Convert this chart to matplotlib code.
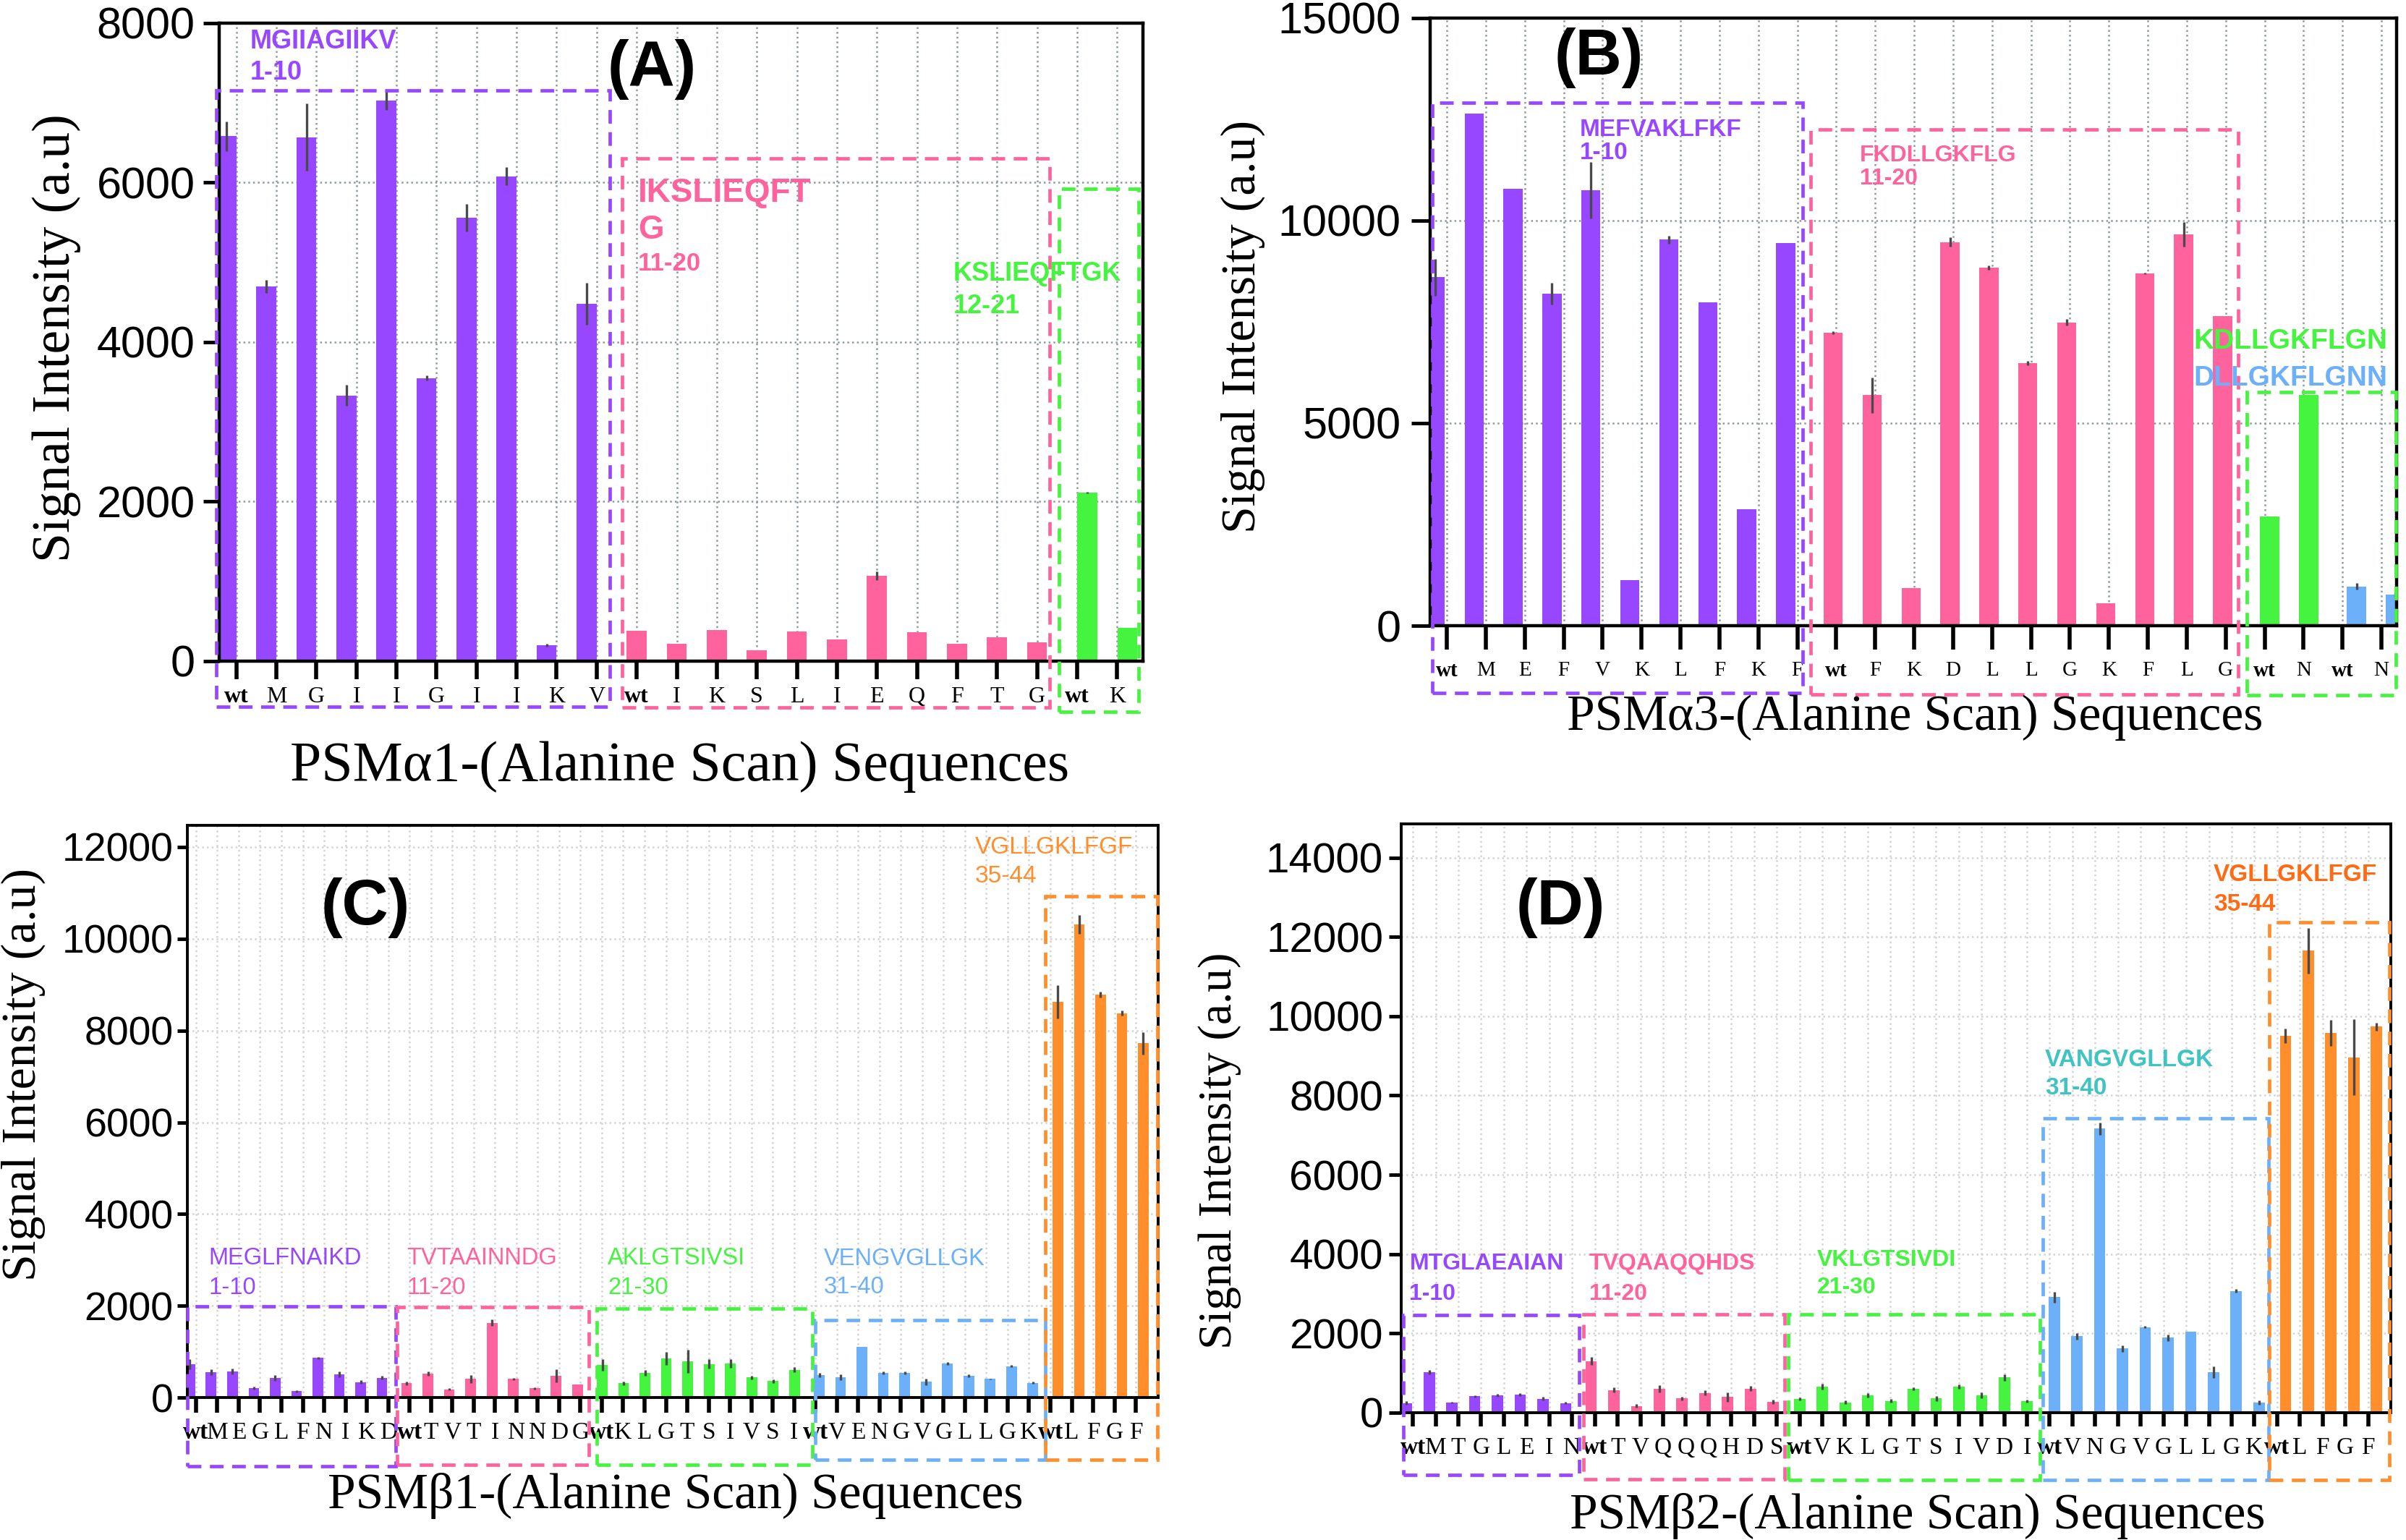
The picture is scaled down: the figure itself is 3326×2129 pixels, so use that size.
import numpy as np
import matplotlib
matplotlib.use("Agg")
import matplotlib.pyplot as plt
from matplotlib.patches import Rectangle

# ---------------- data ----------------
# (A) PSMalpha1
a1_labels = ["wt", "M", "G", "I", "I", "G", "I", "I", "K", "V"]
a1_vals = [6580, 4700, 6570, 3330, 7030, 3550, 5560, 6080, 200, 4480]
a1_err = [190, 80, 420, 130, 120, 30, 170, 110, 20, 260]
a2_labels = ["wt", "I", "K", "S", "L", "I", "E", "Q", "F", "T", "G"]
a2_vals = [380, 220, 390, 140, 370, 275, 1070, 360, 215, 300, 240]
a2_err = [0, 0, 0, 0, 0, 0, 50, 0, 0, 0, 0]
a3_labels = ["wt", "K"]
a3_vals = [2110, 420]
a3_err = [10, 0]

# (B) PSMalpha3
b1_labels = ["wt", "M", "E", "F", "V", "K", "L", "F", "K", "F"]
b1_vals = [8600, 12650, 10790, 8200, 10750, 1130, 9530, 7980, 2870, 9440]
b1_err = [460, 0, 0, 270, 690, 0, 100, 0, 0, 0]
b2_labels = ["wt", "F", "K", "D", "L", "L", "G", "K", "F", "L", "G"]
b2_vals = [7230, 5690, 920, 9470, 8840, 6480, 7490, 560, 8690, 9660, 7640]
b2_err = [30, 440, 0, 120, 60, 60, 80, 0, 20, 310, 0]
b3_labels = ["wt", "N"]
b3_vals = [2700, 5690]
b3_err = [0, 0]
b4_labels = ["wt", "N"]
b4_vals = [970, 770]
b4_err = [80, 60]

# (C) PSMbeta1
c1_labels = ["wt", "M", "E", "G", "L", "F", "N", "I", "K", "D"]
c1_vals = [730, 556, 566, 212, 423, 138, 862, 503, 339, 429]
c1_err = [110, 60, 60, 30, 60, 20, 20, 60, 40, 40]
c2_labels = ["wt", "T", "V", "T", "I", "N", "N", "D", "G"]
c2_vals = [312, 519, 180, 407, 1630, 407, 201, 476, 286]
c2_err = [40, 50, 20, 90, 70, 20, 20, 140, 0]
c3_labels = ["wt", "K", "L", "G", "T", "S", "I", "V", "S", "I"]
c3_vals = [714, 312, 534, 852, 788, 730, 741, 439, 360, 608]
c3_err = [130, 40, 60, 140, 250, 100, 100, 40, 40, 50]
c4_labels = ["wt", "V", "E", "N", "G", "V", "G", "L", "L", "G", "K"]
c4_vals = [487, 446, 1109, 539, 539, 342, 746, 477, 404, 684, 321]
c4_err = [50, 60, 0, 30, 30, 70, 30, 30, 10, 20, 20]
c5_labels = ["wt", "L", "F", "G", "F"]
c5_vals = [8630, 10310, 8780, 8380, 7720]
c5_err = [360, 200, 60, 60, 250]

# (D) PSMbeta2
d1_labels = ["wt", "M", "T", "G", "L", "E", "I", "N"]
d1_vals = [242, 1018, 255, 412, 436, 455, 352, 242]
d1_err = [40, 60, 20, 30, 30, 30, 40, 30]
d2_labels = ["wt", "T", "V", "Q", "Q", "Q", "H", "D", "S"]
d2_vals = [1303, 570, 170, 606, 358, 497, 394, 606, 273]
d2_err = [100, 60, 40, 90, 50, 60, 120, 60, 50]
d3_labels = ["wt", "V", "K", "L", "G", "T", "S", "I", "V", "D", "I"]
d3_vals = [345, 655, 260, 436, 297, 600, 358, 655, 436, 890, 287]
d3_err = [40, 70, 40, 60, 50, 40, 60, 50, 80, 80, 40]
d4_labels = ["wt", "V", "N", "G", "V", "G", "L", "L", "G", "K"]
d4_vals = [2910, 1930, 7160, 1620, 2160, 1890, 2040, 1020, 3070, 250]
d4_err = [130, 80, 150, 80, 30, 80, 0, 150, 40, 50]
d5_labels = ["wt", "L", "F", "G", "F"]
d5_vals = [9510, 11650, 9580, 8960, 9740]
d5_err = [180, 570, 330, 960, 100]

# ---------------- style ----------------
SERIF = "Liberation Serif"
SANS = "Liberation Sans"
PURPLE = "#9747FF"
PINK = "#FF639D"
GREEN = "#45F43F"
BLUE = "#6CB0FA"
ORANGE = "#FF8E2B"
TEAL = "#3FC4C2"
DORANGE = "#FF6A14"
ERR = "#4A4A4A"


def draw_bars(ax, groups, width=0.5):
    labels = []
    start = 0
    for lab, vals, errs, color, off in groups:
        x = np.arange(start, start + len(vals)) + off
        ax.bar(x, vals, width, color=color, zorder=2)
        ax.errorbar(x, vals, yerr=errs, fmt="none", ecolor=ERR,
                    elinewidth=2.4, capsize=0, zorder=3)
        labels += lab
        start += len(vals)
    ax.set_xticks(np.arange(len(labels)))
    ax.set_xticklabels(labels, fontfamily=SERIF)
    for t in ax.get_xticklabels():
        if t.get_text() == "wt":
            t.set_fontweight("bold")


def style(ax, xlim, ylim, yticks, ysize, xsize, xlen, xpad, ylen, ypad,
          spine_w, grid_color):
    ax.set_xlim(*xlim)
    ax.set_ylim(*ylim)
    ax.set_yticks(yticks)
    for s in ax.spines.values():
        s.set_linewidth(spine_w)
        s.set_color("black")
    ax.tick_params(axis="x", length=xlen, width=4, labelsize=xsize, pad=xpad)
    ax.tick_params(axis="y", length=ylen, width=3.5, labelsize=ysize, pad=ypad)
    for t in ax.get_yticklabels():
        t.set_fontfamily(SANS)
    ax.grid(True, color=grid_color, linestyle=":", linewidth=1.8)
    ax.set_axisbelow(True)


def box(ax, x0, x1, y0, y1, color):
    ax.add_patch(Rectangle((x0, y0), x1 - x0, y1 - y0, fill=False,
                           edgecolor=color, linewidth=3.4,
                           linestyle=(0, (4, 2.5)), clip_on=False, zorder=4))


def note(ax, x, y, s, color, size, weight="bold"):
    ax.text(x, y, s, color=color, fontsize=size, fontweight=weight,
            family=SANS, ha="left", va="center", zorder=5)


def letter(ax, x, y, s):
    ax.text(x, y, s, fontsize=64, fontweight="bold", family=SANS,
            ha="center", va="center", zorder=5)


fig = plt.figure(figsize=(33.26, 21.29), dpi=100)

# ---------------- (A) ----------------
ax = fig.add_axes([0.0911, 0.5707, 0.384, 0.4143])
draw_bars(ax, [(a1_labels, a1_vals, a1_err, PURPLE, -0.25),
               (a2_labels, a2_vals, a2_err, PINK, 0.0),
               (a3_labels, a3_vals, a3_err, GREEN, 0.26)])
style(ax, (-0.43, 22.65), (0, 8000), [0, 2000, 4000, 6000, 8000],
      44, 23, 18, 7, 16, 8, 3.2, "#8e9a9e")
box(ax, -0.5, 9.32, -568, 7159, PURPLE)
box(ax, 9.63, 20.31, -580, 6305, PINK)
box(ax, 20.55, 22.54, -639, 5921, GREEN)
note(ax, 0.34, 7768, "MGIIAGIIKV", PURPLE, 26)
note(ax, 0.34, 7374, "1-10", PURPLE, 26)
note(ax, 10.03, 5872, "IKSLIEQFT", PINK, 33)
note(ax, 10.03, 5405, "G", PINK, 33)
note(ax, 10.03, 4988, "11-20", PINK, 25)
note(ax, 17.91, 4855, "KSLIEQFTGK", GREEN, 26)
note(ax, 17.91, 4447, "12-21", GREEN, 26)
letter(ax, 10.38, 7423, "(A)")

# ---------------- (B) ----------------
ax = fig.add_axes([0.5944, 0.5937, 0.4017, 0.3946])
draw_bars(ax, [(b1_labels, b1_vals, b1_err, PURPLE, -0.30),
               (b2_labels, b2_vals, b2_err, PINK, -0.08),
               (b3_labels, b3_vals, b3_err, GREEN, 0.13),
               (b4_labels, b4_vals, b4_err, BLUE, 0.36)], width=0.49)
style(ax, (-0.43, 24.39), (0, 15000), [0, 5000, 10000, 15000],
      44, 21, 24, 11, 19, 10, 3.2, "#8e9a9e")
box(ax, -0.37, 9.14, -1662, 12903, PURPLE)
box(ax, 9.35, 20.33, -1692, 12256, PINK)
box(ax, 20.54, 24.37, -1713, 5764, GREEN)
note(ax, 3.41, 12236, "MEFVAKLFKF", PURPLE, 24)
note(ax, 3.41, 11672, "1-10", PURPLE, 24)
note(ax, 10.61, 11610, "FKDLLGKFLG", PINK, 23)
note(ax, 10.61, 11026, "11-20", PINK, 23)
note(ax, 19.17, 7026, "KDLLGKFLGN", GREEN, 28)
note(ax, 19.17, 6103, "DLLGKFLGNN", BLUE, 28)
letter(ax, 3.90, 14015, "(B)")

# ---------------- (C) ----------------
ax = fig.add_axes([0.0779, 0.0925, 0.4035, 0.3715])
draw_bars(ax, [(c1_labels, c1_vals, c1_err, PURPLE, -0.29),
               (c2_labels, c2_vals, c2_err, PINK, -0.14),
               (c3_labels, c3_vals, c3_err, GREEN, 0.02),
               (c4_labels, c4_vals, c4_err, BLUE, 0.18),
               (c5_labels, c5_vals, c5_err, ORANGE, 0.35)])
style(ax, (-0.40, 45.05), (0, 12470), np.arange(0, 12001, 2000),
      40, 24, 15, 9, 10, 4, 2.8, "#d4d4d4")
box(ax, -0.39, 9.36, -1503, 1995, PURPLE)
box(ax, 9.41, 18.40, -1466, 1974, PINK)
box(ax, 18.75, 28.85, -1466, 1942, GREEN)
box(ax, 29.00, 39.75, -1347, 1689, BLUE)
box(ax, 39.75, 45.00, -1347, 10933, ORANGE)
note(ax, 0.59, 3042, "MEGLFNAIKD", PURPLE, 23.5, "normal")
note(ax, 0.59, 2397, "1-10", PURPLE, 23.5, "normal")
note(ax, 9.86, 3042, "TVTAAINNDG", PINK, 23.5, "normal")
note(ax, 9.86, 2397, "11-20", PINK, 23.5, "normal")
note(ax, 19.28, 3030, "AKLGTSIVSI", GREEN, 23.5, "normal")
note(ax, 19.28, 2385, "21-30", GREEN, 23.5, "normal")
note(ax, 29.39, 3026, "VENGVGLLGK", BLUE, 23.5, "normal")
note(ax, 29.39, 2404, "31-40", BLUE, 23.5, "normal")
note(ax, 36.47, 11990, "VGLLGKLFGF", ORANGE, 24, "normal")
note(ax, 36.47, 11368, "35-44", ORANGE, 24, "normal")
letter(ax, 7.93, 10669, "(C)")

# ---------------- (D) ----------------
ax = fig.add_axes([0.5824, 0.0827, 0.4113, 0.3823])
draw_bars(ax, [(d1_labels, d1_vals, d1_err, PURPLE, -0.28),
               (d2_labels, d2_vals, d2_err, PINK, -0.16),
               (d3_labels, d3_vals, d3_err, GREEN, 0.01),
               (d4_labels, d4_vals, d4_err, BLUE, 0.20),
               (d5_labels, d5_vals, d5_err, ORANGE, 0.37)])
style(ax, (-0.51, 43.0), (0, 14850), np.arange(0, 14001, 2000),
      42, 24, 14, 10, 12, 6, 2.8, "#d4d4d4")
box(ax, -0.42, 7.31, -1564, 2454, PURPLE)
box(ax, 7.49, 16.36, -1685, 2473, PINK)
box(ax, 16.49, 27.57, -1700, 2473, GREEN)
box(ax, 27.69, 37.63, -1700, 7425, BLUE)
box(ax, 37.65, 42.92, -1700, 12371, ORANGE)
note(ax, -0.15, 3758, "MTGLAEAIAN", PURPLE, 23)
note(ax, -0.15, 3000, "1-10", PURPLE, 23)
note(ax, 7.76, 3758, "TVQAAQQHDS", PINK, 23)
note(ax, 7.76, 3000, "11-20", PINK, 23)
note(ax, 17.76, 3848, "VKLGTSIVDI", GREEN, 23)
note(ax, 17.76, 3152, "21-30", GREEN, 23)
note(ax, 27.8, 8898, "VANGVGLLGK", TEAL, 24)
note(ax, 27.8, 8180, "31-40", TEAL, 24)
note(ax, 35.2, 13569, "VGLLGKLFGF", DORANGE, 24)
note(ax, 35.2, 12814, "35-44", DORANGE, 24)
letter(ax, 6.5, 12727, "(D)")

# ---------------- axis titles ----------------
xlab = dict(family=SERIF, ha="center", va="center")
fig.text(0.2826, 0.5019, "PSM\u03b11-(Alanine Scan) Sequences", fontsize=56, **xlab)
fig.text(0.7959, 0.5338, "PSM\u03b13-(Alanine Scan) Sequences", fontsize=50, **xlab)
fig.text(0.2806, 0.0287, "PSM\u03b21-(Alanine Scan) Sequences", fontsize=50, **xlab)
fig.text(0.7971, 0.0157, "PSM\u03b22-(Alanine Scan) Sequences", fontsize=50, **xlab)
fig.text(0.0236, 0.7808, "Signal Intensity (a.u)", fontsize=53, rotation=90, **xlab)
fig.text(0.5166, 0.7878, "Signal Intensity (a.u)", fontsize=49, rotation=90, **xlab)
fig.text(0.0096, 0.3025, "Signal Intensity (a.u)", fontsize=49, rotation=90, **xlab)
fig.text(0.5070, 0.2527, "Signal Intensity (a.u)", fontsize=47, rotation=90, **xlab)

fig.savefig("out.png", dpi=100)
plt.close(fig)
